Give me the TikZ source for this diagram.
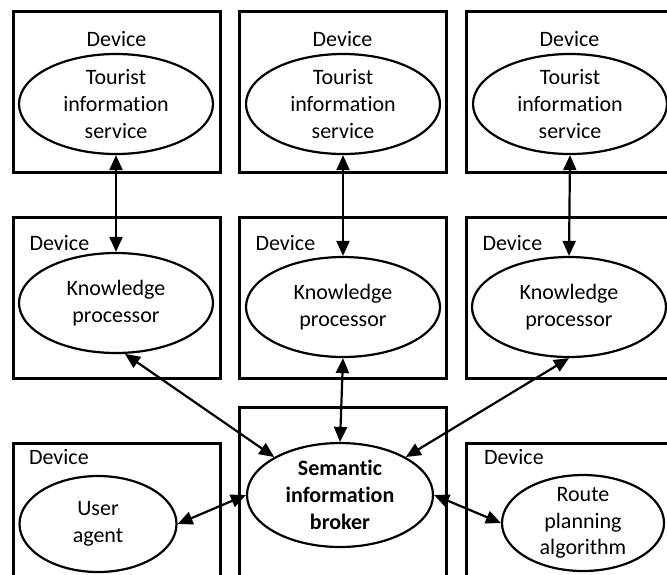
\documentclass[tikz,border=0pt]{standalone}
\usepackage{fontspec}
\setmainfont{Carlito}[Ligatures=NoCommon]
\usetikzlibrary{shapes.geometric,arrows.meta}

\tikzset{
  device/.style={draw, line width=1.5pt, minimum width=103.5pt,
    minimum height=80.5pt, inner sep=0pt},
  proc/.style={draw, ellipse, line width=1.1pt, minimum width=97pt,
    minimum height=50pt, inner xsep=0pt, inner ysep=-6pt, align=center},
  link/.style={line width=1.1pt,
    {Triangle[length=7.5pt,width=6.5pt]}-{Triangle[length=7.5pt,width=6.5pt]}},
}

\begin{document}
\begin{tikzpicture}[x=0.5pt, y=-0.5pt, font=\fontsize{11}{13.4}\selectfont]
    \useasboundingbox (0,0) rectangle (667,574);
    \clip (0,0) rectangle (667,574);
    % top row: tourist services
    \foreach \x/\c [count=\i] in {116.5/116, 342.5/343, 569.5/570}
    {
    \node[device] (top\i) at (\x,92) {};
    \node (toplbl\i) at (\x,39) {Device};
    \node[proc] (tis\i) at (\c,104) {Tourist\\information\\service};
    }
    % middle row: knowledge processors
    \foreach \x/\c/\y [count=\i] in {116.5/116/303, 342.5/343/307, 569.5/569/307}
    {
    \node[device] (mid\i) at (\x,298) {};
    \node[anchor=west] (midlbl\i) at (\x-94,243) {Device};
    \node[proc] (kp\i) at (\c,\y) {Knowledge\\processor};
    }
    % bottom row, frames run past the lower edge
    \node[device, minimum height=110pt] (bot1) at (116.5,553) {};
    \node[device, minimum height=110pt] (bot2) at (342.5,517) {};
    \node[device, minimum height=110pt] (bot3) at (570,553) {};
    \node[anchor=west] (botlbl1) at (22,457) {Device};
    \node[anchor=west] (botlbl3) at (477,457) {Device};
    \node[proc, minimum width=78.5pt, minimum height=48pt] (user) at (98,524)
    {User\\agent};
    \node[proc, minimum width=93pt, minimum height=52pt,
    font=\fontsize{11}{13.4}\selectfont\bfseries] (sib) at (340,495)
    {Semantic\\information\\broker};
    \node[proc, minimum width=81pt, minimum height=48pt] (route) at (583,523)
    {Route\\planning\\algorithm};
    % connections
    \foreach \i in {1,2,3}
    \draw[link] (tis\i.south) -- (kp\i.north);
    \draw[link] (kp1.-80) -- (sib.150);
    \draw[link] (kp2.south) -- (sib.north);
    \draw[link] (kp3.south) -- (sib.30);
    \draw[link] (sib.west) -- (user.east);
    \draw[link] (sib.east) -- (route.west);
\end{tikzpicture}
\end{document}
